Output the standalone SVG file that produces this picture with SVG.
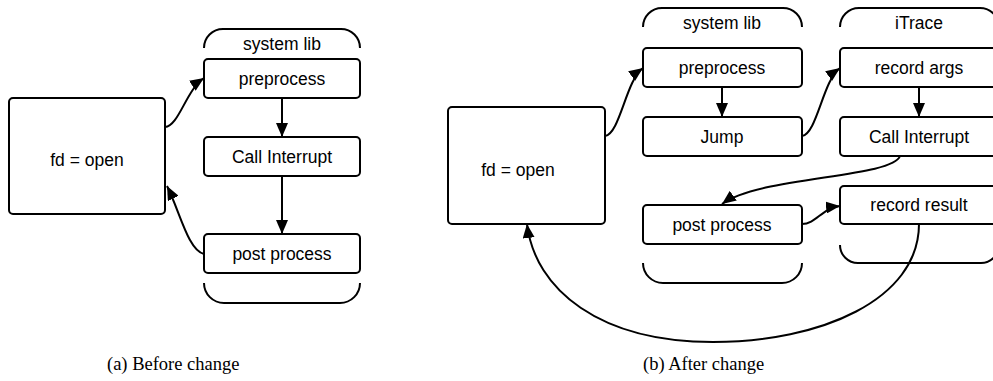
<svg xmlns="http://www.w3.org/2000/svg" width="993" height="381" viewBox="0 0 993 381">
<style>
.box{fill:#fff;stroke:#000;stroke-width:2}
.br{fill:none;stroke:#000;stroke-width:2}
.lbl{font-family:"Liberation Sans",Arial,sans-serif;font-size:17.5px;fill:#000;text-anchor:middle}
.cap{font-family:"Liberation Serif","Times New Roman",serif;font-size:18.5px;fill:#000}
.edge{fill:none;stroke:#000;stroke-width:2;marker-end:url(#ah)}
</style>
<defs>
<marker id="ah" markerUnits="userSpaceOnUse" markerWidth="15" markerHeight="12" refX="14" refY="6" orient="auto">
<path d="M0,0 L14,6 L0,12 Z" fill="#000"/>
</marker>
</defs>
<rect width="993" height="381" fill="#fff"/>

<!-- Panel (a) -->
<g id="a-systemlib">
<path class="br" d="M204,48 A19,19 0 0 1 223,29 L341,29 A19,19 0 0 1 360,48"/>
<path class="br" d="M204,283 A20,20 0 0 0 224,303 L340,303 A20,20 0 0 0 360,283"/>
<text class="lbl" x="282" y="50">system lib</text>
</g>
<g id="a-fdopen">
<rect class="box" x="9" y="98" width="156" height="116" rx="4"/>
<text class="lbl" x="87" y="166">fd = open</text>
</g>
<g id="a-preprocess">
<rect class="box" x="204" y="59" width="156" height="39" rx="4"/>
<text class="lbl" x="282" y="85">preprocess</text>
</g>
<g id="a-callinterrupt">
<rect class="box" x="204" y="137" width="156" height="39" rx="4"/>
<text class="lbl" x="282" y="163">Call Interrupt</text>
</g>
<g id="a-postprocess">
<rect class="box" x="204" y="234" width="156" height="39" rx="4"/>
<text class="lbl" x="282" y="260">post process</text>
</g>

<!-- Panel (b) -->
<g id="b-systemlib">
<path class="br" d="M643,27 A19,19 0 0 1 662,8 L783,8 A19,19 0 0 1 802,27"/>
<path class="br" d="M643,263 A20,20 0 0 0 663,283 L782,283 A20,20 0 0 0 802,263"/>
<text class="lbl" x="722" y="29">system lib</text>
</g>
<g id="b-itrace">
<path class="br" d="M840,27 A19,19 0 0 1 859,8 L980,8 A19,19 0 0 1 999,27"/>
<path class="br" d="M840,245 A18,18 0 0 0 858,263 L981,263 A18,18 0 0 0 999,245"/>
<text class="lbl" x="919" y="29">iTrace</text>
</g>
<g id="b-fdopen">
<rect class="box" x="448" y="107" width="157" height="117" rx="4"/>
<text class="lbl" x="518" y="176">fd = open</text>
</g>
<g id="b-preprocess">
<rect class="box" x="643" y="48" width="159" height="39" rx="4"/>
<text class="lbl" x="722" y="74">preprocess</text>
</g>
<g id="b-jump">
<rect class="box" x="643" y="117" width="159" height="39" rx="4"/>
<text class="lbl" x="722" y="143">Jump</text>
</g>
<g id="b-postprocess">
<rect class="box" x="643" y="205" width="159" height="39" rx="4"/>
<text class="lbl" x="722" y="231">post process</text>
</g>
<g id="b-recordargs">
<rect class="box" x="840" y="48" width="159" height="39" rx="4"/>
<text class="lbl" x="919" y="74">record args</text>
</g>
<g id="b-callinterrupt">
<rect class="box" x="840" y="117" width="159" height="39" rx="4"/>
<text class="lbl" x="919" y="143">Call Interrupt</text>
</g>
<g id="b-recordresult">
<rect class="box" x="840" y="186" width="159" height="38" rx="4"/>
<text class="lbl" x="919" y="211">record result</text>
</g>

<g id="connectors">
<path class="edge" d="M165,127 C179,126 186,90 204,78"/>
<path class="edge" d="M204,254 C188,250 180,212 167,186"/>
<path class="edge" d="M282,98 L282,137"/>
<path class="edge" d="M282,176 L282,234"/>

<path class="edge" d="M605,136 C620,134 626,80 643,68"/>
<path class="edge" d="M722,87 L722,117"/>
<path class="edge" d="M802,136 C817,134 823,80 840,68"/>
<path class="edge" d="M919,87 L919,117"/>
<path class="edge" d="M900,156 C892,178 760,176 722,204"/>
<path class="edge" d="M802,224 C816,224 822,208 840,206"/>
<path class="edge" d="M919,224 C919,300 820,342 713,342 C600,342 535,290 527,224"/>
</g>

<g id="captions">
<text class="cap" x="107" y="370">(a) Before change</text>
<text class="cap" x="643" y="370">(b) After change</text>
</g>
</svg>
